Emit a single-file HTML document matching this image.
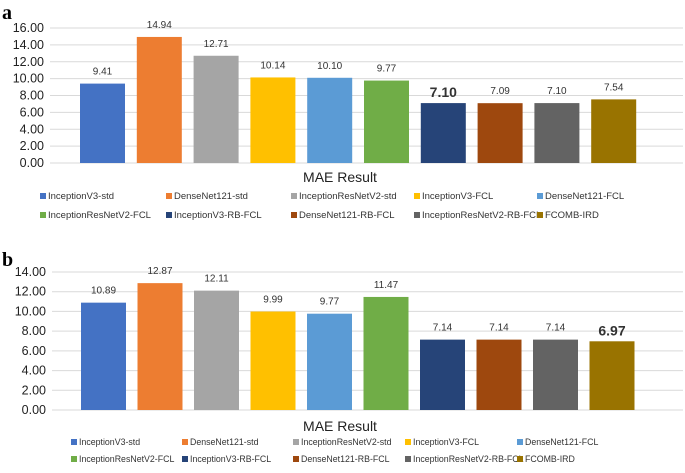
<!DOCTYPE html>
<html><head><meta charset="utf-8"><style>
body{margin:0;background:#fff;width:685px;height:468px;overflow:hidden}
svg text{font-family:"Liberation Sans",sans-serif}
</style></head><body>
<svg id="s" width="685" height="468" xmlns="http://www.w3.org/2000/svg">
<text x="2" y="19" font-weight="bold" font-size="20" style="font-family:'Liberation Serif',serif">a</text>
<text x="2" y="266" font-weight="bold" font-size="20" style="font-family:'Liberation Serif',serif">b</text>
</svg>
<script>
const categories=["InceptionV3-std","DenseNet121-std","InceptionResNetV2-std","InceptionV3-FCL","DenseNet121-FCL","InceptionResNetV2-FCL","InceptionV3-RB-FCL","DenseNet121-RB-FCL","InceptionResNetV2-RB-FCL","FCOMB-IRD"];
const colors=["#4472C4","#ED7D31","#A5A5A5","#FFC000","#5B9BD5","#70AD47","#264478","#9E480E","#636363","#997300"];
const valuesA=[9.41,14.94,12.71,10.14,10.10,9.77,7.10,7.09,7.10,7.54];
const valuesB=[10.89,12.87,12.11,9.99,9.77,11.47,7.14,7.14,7.14,6.97];
const ticksA=[0,2,4,6,8,10,12,14,16];
const ticksB=[0,2,4,6,8,10,12,14];
const boldA=6, boldB=9;
const NS="http://www.w3.org/2000/svg";
const svg=document.getElementById('s');
function mk(t,a,txt){const e=document.createElementNS(NS,t);for(const k in a)e.setAttribute(k,a[k]);if(txt!=null)e.textContent=txt;svg.appendChild(e);return e;}
function chart(p,vals,ticks,bold){
  const y=v=>p.y0-(v/ticks[ticks.length-1])*(p.y0-p.yTop);
  ticks.forEach(t=>{
    const g=mk('line',{x1:p.gx,x2:683,y1:y(t),y2:y(t),stroke:'#d9d9d9','stroke-width':1});
    
    
    const l=mk('text',{x:p.lx,y:y(t)+4,'text-anchor':'end','font-size':12.5,fill:'#222'},t.toFixed(2));
    
    
  });
  vals.forEach((v,i)=>{
    const x=p.bx+i*p.step;
    const r=mk('rect',{x:x,y:y(v),width:p.bw,height:p.y0-y(v),fill:colors[i]});
    
    
    const b=i===bold;
    const t=mk('text',{x:x+p.bw/2,y:y(v)-(b?6:9),'text-anchor':'middle','font-size':b?14:10,'font-weight':b?'bold':'normal',fill:'#333'},v.toFixed(2));
    
    
  });
  const ti=mk('text',{x:p.tx,y:p.ty,'text-anchor':'middle','font-size':14,fill:'#222'},'MAE Result');
  
  
  categories.forEach((c,i)=>{
    const row=Math.floor(i/5),col=i%5;
    const lx=p.legX[col],ly=p.legY[row];
    const sq=mk('rect',{x:lx,y:ly-6,width:6,height:6,fill:colors[i]});
    
    
    const lt=mk('text',{x:lx+8,y:ly,'font-size':p.fs,fill:'#333'},c);
    
    
  });
}
chart({id:'a',y0:163,yTop:28,gx:50,lx:44,bx:80,step:56.8,bw:45,tx:340,ty:182,fs:9.5,legX:[40,166,291,414,537],legY:[199,218]},valuesA,ticksA,boldA);
chart({id:'b',y0:410,yTop:272,gx:52,lx:46,bx:81,step:56.5,bw:45,tx:340,ty:431,fs:8.8,legX:[71,182,293,405,517],legY:[445,462]},valuesB,ticksB,boldB);
</script>
</body></html>
